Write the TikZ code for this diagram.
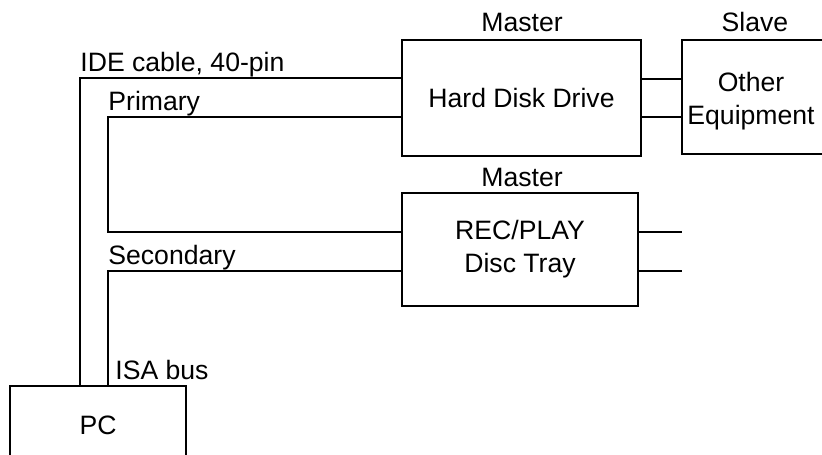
\documentclass[tikz,border=0pt]{standalone}
\usepackage{fontspec}
\setmainfont{Liberation Sans}
\begin{document}
\begin{tikzpicture}[x=0.5pt,y=-0.5pt,
  every node/.style={font=\fontsize{13.3}{16.5}\selectfont},
  box/.style={draw,line width=1pt,inner sep=0pt,align=center},
  lbl/.style={inner sep=0pt,anchor=base west},
  toplbl/.style={inner sep=0pt,anchor=base},
  wire/.style={line width=1pt}]
\useasboundingbox (0,0) rectangle (822,454);
\clip (0,0) rectangle (822,454);
% boxes
\node[box,minimum width=119.5pt,minimum height=58pt] (hdd) at (521.5,98) {Hard Disk Drive};
\node[box,minimum width=118pt,minimum height=56.5pt] (rec) at (520,249.5) {REC/PLAY\\Disc Tray};
\node[box,minimum width=90pt,minimum height=57pt] (oth) at (772,97) {};
\node[inner sep=0pt,align=center] (othtxt) at (751,101) {Other\\Equipment};
\node[box,minimum width=88pt,minimum height=39pt] (pc) at (98,425) {PC};
% coordinates
\coordinate (ide) at (80,78);
\coordinate (priT) at (108,117);
\coordinate (priB) at (108,232);
\coordinate (sec) at (108,271);
\coordinate (h1) at (660,79);
\coordinate (h2) at (660,117);
\coordinate (r1) at (682,232);
\coordinate (r2) at (682,271);
% wires
\draw[wire] (ide -| hdd.west) -- (ide) -- (ide |- pc.north);
\draw[wire] (priT -| hdd.west) -- (priT) -- (priB) -- (priB -| rec.west);
\draw[wire] (sec -| rec.west) -- (sec) -- (sec |- pc.north);
\draw[wire] (h1 -| hdd.east) -- (h1 -| oth.west);
\draw[wire] (h2 -| hdd.east) -- (h2 -| oth.west);
\draw[wire] (r1 -| rec.east) -- (r1);
\draw[wire] (r2 -| rec.east) -- (r2);
% labels
\node[lbl] (lide) at (80,72) {IDE cable, 40-pin};
\node[lbl] (lpri) at (108,111) {Primary};
\node[lbl] (lsec) at (108,264) {Secondary};
\node[lbl] (lisa) at (115,379) {ISA bus};
\node[toplbl] (lm1) at (522,32) {Master};
\node[toplbl] (lsl) at (755,32) {Slave};
\node[toplbl] (lm2) at (522,186) {Master};
\end{tikzpicture}
\end{document}
